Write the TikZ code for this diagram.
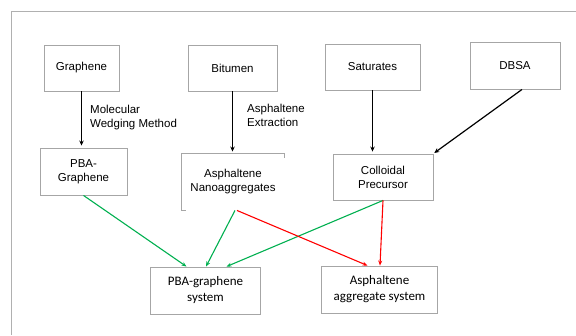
\documentclass[tikz,border=0pt]{standalone}
\usepackage{fontspec}
\setmainfont{Liberation Sans}
\newfontfamily\calib{Carlito}
\usetikzlibrary{arrows.meta}
\definecolor{boxgray}{HTML}{A6A6A6}
\definecolor{framegray}{HTML}{B0B0B0}
\definecolor{okgreen}{HTML}{00B050}
\definecolor{badred}{HTML}{FF0000}
\tikzset{
  box/.style={draw=boxgray, line width=0.9pt, rectangle, inner sep=0pt, align=center,
    font=\fontsize{11.5}{14}\selectfont},
  sysbox/.style={box, font=\calib\fontsize{13}{16}\selectfont},
  lbl/.style={anchor=west, align=left, inner sep=0pt, font=\fontsize{11.5}{14}\selectfont},
  blk/.style={draw=black, line width=1.5pt, -{Stealth[length=5pt,width=4.5pt]}, shorten >=2pt},
  grn/.style={draw=okgreen, line width=1.1pt, -{Stealth[length=5pt,width=4pt]}},
  rd/.style={draw=badred, line width=1.1pt, -{Stealth[length=5pt,width=4pt]}},
}
\begin{document}
\begin{tikzpicture}[x=1pt,y=-1pt]
\useasboundingbox (0,0) rectangle (576,335);
\fill[white] (0,0) rectangle (576,335);
\draw[framegray, line width=1pt] (576,11) -- (11,11) -- (11,335);

\node[box, minimum width=75, minimum height=46] (graphene) at (81.5,68) {Graphene};
\node[box, minimum width=89, minimum height=46] (bitumen) at (232.5,68) {Bitumen};
\node[box, minimum width=95, minimum height=46] (saturates) at (372.5,67) {Saturates};
\node[box, minimum width=90, minimum height=47] (dbsa) at (515,65.5) {DBSA};

\node[box, minimum width=87, minimum height=47] (pbag) at (83.5,171.5) {PBA-\\Graphene};
\node[box, draw=none, minimum width=102, minimum height=56] (nano) at (233,182) {Asphaltene\\Nanoaggregates};
\draw[boxgray, line width=0.9pt] ([xshift=4pt]nano.south west) -- (nano.south west) -- (nano.north west) -- (nano.north east) -- ([yshift=-4pt]nano.north east);
\node[box, minimum width=100, minimum height=46] (coll) at (383,177) {Colloidal\\Precursor};

\node[sysbox, minimum width=110, minimum height=47] (sys1) at (205.5,290.5) {PBA-graphene\\system};
\node[sysbox, minimum width=116, minimum height=47] (sys2) at (379.5,289.5) {Asphaltene\\aggregate system};

\draw[blk] (graphene.south) -- (pbag.north -| graphene.south);
\draw[blk] (bitumen.south) -- (nano.north -| bitumen.south);
\draw[blk] (saturates.south) -- (coll.north -| saturates.south);
\draw[blk, line width=1.2pt, shorten >=1pt] ([xshift=7pt]dbsa.south) -- (coll.north east);

\node[lbl] (lblmw) at (90,118) {Molecular\\Wedging Method};
\node[lbl] (lblae) at (247,115) {Asphaltene\\Extraction};

\draw[grn] (pbag.south) -- ([xshift=-19pt]sys1.north);
\draw[grn] ([xshift=2pt]nano.south) -- ([xshift=0.5pt]sys1.north);
\draw[grn] (coll.south) -- ([xshift=21pt]sys1.north);
\draw[rd] ([xshift=4pt]nano.south) -- ([xshift=-12pt]sys2.north);
\draw[rd] (coll.south) -- ([xshift=0.5pt]sys2.north);
\end{tikzpicture}
\end{document}
